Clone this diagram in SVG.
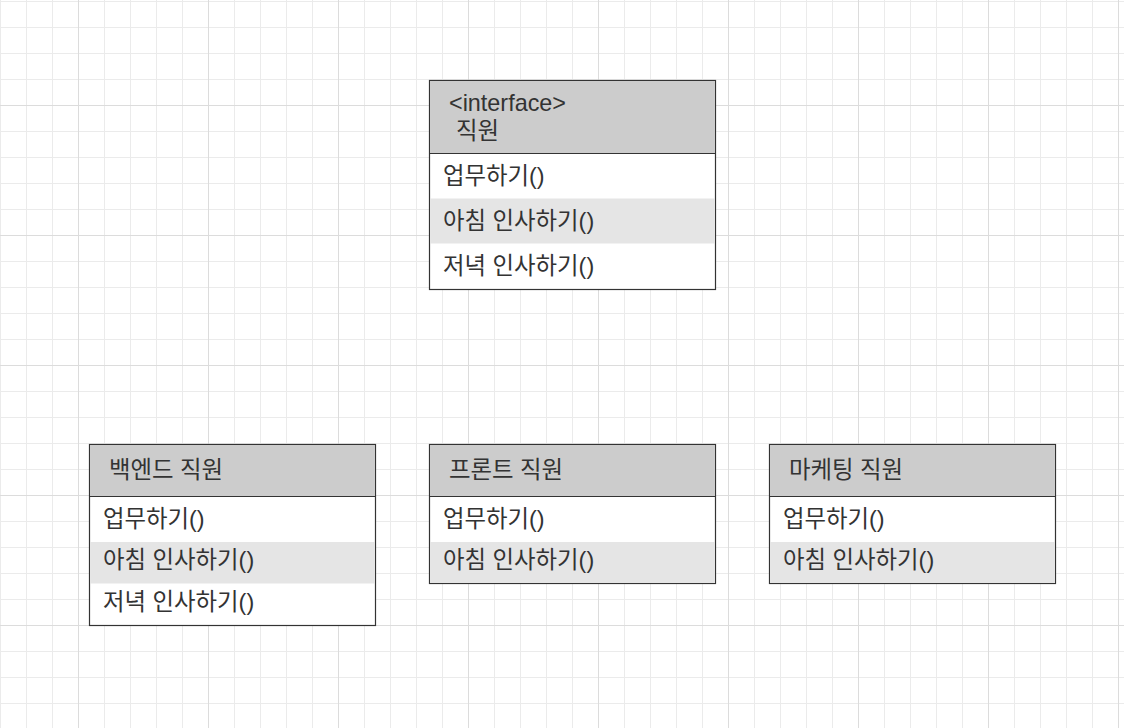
<svg xmlns="http://www.w3.org/2000/svg" width="1124" height="728" viewBox="0 0 1124 728">
<defs>
<pattern id="grid" x="78" y="105" width="130" height="130" patternUnits="userSpaceOnUse">
<path d="M26.5 0V130M52.5 0V130M78.5 0V130M104.5 0V130M0 26.5H130M0 52.5H130M0 78.5H130M0 104.5H130" stroke="#ebebeb" stroke-width="1" fill="none"/>
<path d="M0.5 0V130M0 0.5H130" stroke="#dcdcdc" stroke-width="1" fill="none"/>
</pattern>
<style>
.box{fill:#ffffff;stroke:#333333;stroke-width:1.2}
.hdr{fill:#cccccc}
.alt{fill:#e5e5e5}
.div{stroke:#333333;stroke-width:1.2}
text{font-family:"Liberation Sans","Noto Sans CJK KR",sans-serif;font-size:23.4px;fill:#333333}
</style>
</defs>
<rect width="1124" height="728" fill="#ffffff"/>
<rect width="1124" height="728" fill="url(#grid)"/>
<g id="connectors"></g>
<g id="node-interface">
<rect class="box" x="429.5" y="80.5" width="286" height="209"/>
<rect class="hdr" x="430" y="81" width="285" height="72.5"/>
<rect class="alt" x="430" y="198.5" width="285" height="45"/>
<line class="div" x1="429.5" y1="153.5" x2="715.5" y2="153.5"/>
<text x="449" y="111">&lt;interface&gt;</text>
<text x="456" y="139">직원</text>
<text x="443" y="184">업무하기()</text>
<text x="443" y="229">아침 인사하기()</text>
<text x="443" y="274">저녁 인사하기()</text>
</g>
<g id="node-backend">
<rect class="box" x="89.5" y="444.5" width="286" height="181"/>
<rect class="hdr" x="90" y="445" width="285" height="51.5"/>
<rect class="alt" x="90" y="542" width="285" height="41.5"/>
<line class="div" x1="89.5" y1="496.5" x2="375.5" y2="496.5"/>
<text x="109" y="478">백엔드 직원</text>
<text x="103" y="527">업무하기()</text>
<text x="103" y="568">아침 인사하기()</text>
<text x="103" y="610">저녁 인사하기()</text>
</g>
<g id="node-front">
<rect class="box" x="429.5" y="444.5" width="286" height="139"/>
<rect class="hdr" x="430" y="445" width="285" height="51.5"/>
<rect class="alt" x="430" y="542" width="285" height="41"/>
<line class="div" x1="429.5" y1="496.5" x2="715.5" y2="496.5"/>
<text x="449" y="478">프론트 직원</text>
<text x="443" y="527">업무하기()</text>
<text x="443" y="568">아침 인사하기()</text>
</g>
<g id="node-marketing">
<rect class="box" x="769.5" y="444.5" width="286" height="139"/>
<rect class="hdr" x="770" y="445" width="285" height="51.5"/>
<rect class="alt" x="770" y="542" width="285" height="41"/>
<line class="div" x1="769.5" y1="496.5" x2="1055.5" y2="496.5"/>
<text x="789" y="478">마케팅 직원</text>
<text x="783" y="527">업무하기()</text>
<text x="783" y="568">아침 인사하기()</text>
</g>
</svg>
